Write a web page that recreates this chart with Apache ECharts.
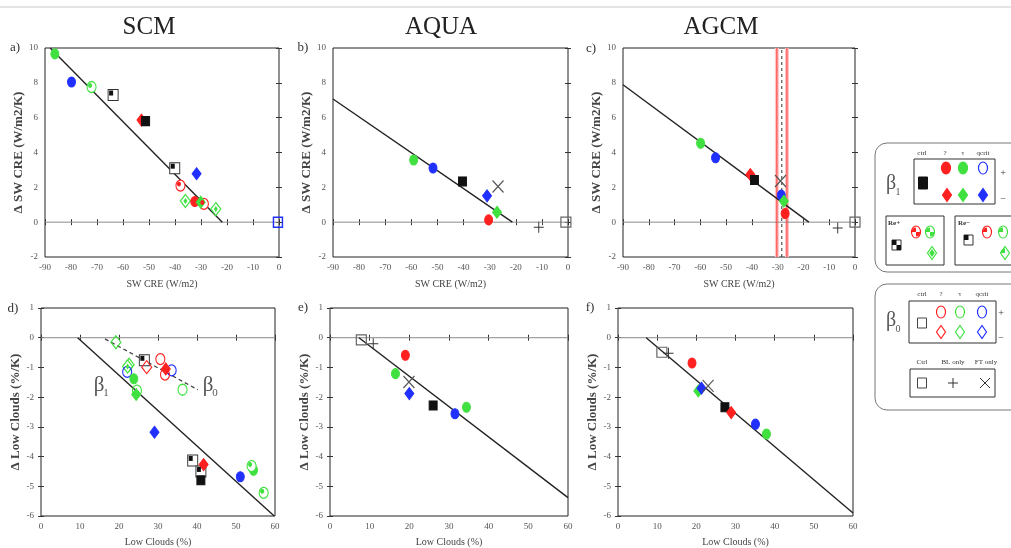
<!DOCTYPE html>
<html>
<head>
<meta charset="utf-8">
<title>SW CRE and low cloud responses</title>
<script src="https://cdn.jsdelivr.net/npm/echarts@6/dist/echarts.min.js"></script>
<style>
  html, body { margin: 0; padding: 0; background: #fff; }
  #main { width: 1011px; height: 548px; }
</style>
</head>
<body>
<div id="main"></div>
<script>
// points are [x, y, marker kind]
var scmCre = [
  [-86.2, 9.66, 'gE'], [-79.8, 8.05, 'bE'], [-72.1, 7.76, 'gEh'], [-63.8, 7.3, 'sqH'],
  [-52.9, 5.86, 'rD'], [-51.3, 5.8, 'sq'], [-40.1, 3.1, 'sqH'], [-31.7, 2.78, 'bD'],
  [-37.9, 2.1, 'rEh'], [-36.0, 1.22, 'gDh'], [-32.4, 1.19, 'rE'], [-30.1, 1.15, 'gD'],
  [-28.9, 1.05, 'rEh'], [-24.3, 0.75, 'gDh'], [-0.4, 0, 'bsqO']
];
var aquaCre = [
  [-59.1, 3.57, 'gE'], [-51.7, 3.11, 'bE'], [-40.4, 2.34, 'sq'], [-31.0, 1.51, 'bD'],
  [-26.8, 2.05, 'cross'], [-27.2, 0.57, 'gD'], [-30.4, 0.13, 'rE'], [-11.2, -0.29, 'plus'],
  [-0.8, 0, 'sqO']
];
var agcmCre = [
  [-59.9, 4.53, 'gE'], [-54.1, 3.7, 'bE'], [-40.6, 2.73, 'rD'], [-39.0, 2.42, 'sq'],
  [-28.9, 2.36, 'cross'], [-28.6, 1.55, 'bE'], [-27.6, 1.2, 'gD'], [-27.1, 0.5, 'rE'],
  [-6.7, -0.33, 'plus'], [0, 0, 'sqO']
];
var scmLcc = [
  [19.2, -0.15, 'gDo'], [22.6, -0.91, 'gDo'], [22.2, -0.97, 'gDh'], [22.1, -1.15, 'bEo'],
  [23.8, -1.38, 'gE'], [24.6, -1.78, 'gEo'], [24.4, -1.91, 'gD'], [26.5, -0.76, 'sqH'],
  [27.1, -0.99, 'rDo'], [30.6, -0.72, 'rEo'], [32.0, -1.05, 'rD'], [31.8, -1.24, 'rEo'],
  [33.5, -1.1, 'bEo'], [36.3, -1.75, 'gEo'], [29.1, -3.18, 'bD'], [38.9, -4.13, 'sqH'],
  [41.7, -4.27, 'rD'], [41.0, -4.5, 'sqH'], [41.0, -4.8, 'sq'], [51.1, -4.68, 'bE'],
  [54.0, -4.32, 'gEh'], [54.5, -4.46, 'gE'], [57.1, -5.22, 'gEh']
];
var aquaLcc = [
  [7.9, -0.07, 'sqO'], [10.9, -0.2, 'plus'], [19.0, -0.59, 'rE'], [16.5, -1.21, 'gE'],
  [19.9, -1.49, 'cross'], [20.0, -1.88, 'bD'], [26.0, -2.28, 'sq'], [31.5, -2.56, 'bE'],
  [34.4, -2.34, 'gE']
];
var agcmLcc = [
  [11.2, -0.49, 'sqO'], [12.9, -0.52, 'plus'], [18.9, -0.85, 'rE'], [20.5, -1.79, 'gD'],
  [21.3, -1.7, 'bD'], [23.0, -1.62, 'cross'], [27.3, -2.34, 'sq'], [28.9, -2.52, 'rD'],
  [35.1, -2.91, 'bE'], [37.9, -3.24, 'gE']
];

// regression lines
var scmCreFit = [[-88, 10], [-21.8, 0]];
var aquaCreFit = [[-90, 7.07], [-21.3, 0]];
var agcmCreFit = [[-90, 7.89], [-17.9, 0]];
var scmLccFit = [[9.4, 0], [59.8, -6]];
var scmLccB0 = [[16.4, -0.04], [40.2, -1.75]];
var aquaLccFit = [[7.3, 0], [60, -5.38]];
var agcmLccFit = [[7.2, 0], [60, -5.9]];
// observed range in AGCM panel
var agcmObsBand = [-30.3, -26.4];
var agcmObsMid = -28.4;

// axis ranges [min, max, step]
var creX = [-90, 0, 10];
var creY = [-2, 10, 2];
var lccX = [0, 60, 10];
var lccY = [-6, 1, 1];

var SERIF = '"Liberation Serif", "DejaVu Serif", serif';
var RED = '#ff2020', GREEN = '#3fe03f', BLUE = '#2030ff';
var ELL = 'path://M5,0C7.8,0 10,2.2 10,5C10,7.8 7.8,10 5,10C2.2,10 0,7.8 0,5C0,2.2 2.2,0 5,0Z';
var PLUS = 'path://M5,0L5,10M0,5L10,5';
var CROSS = 'path://M0,0L10,10M10,0L0,10';
var NONE = 'rgba(0,0,0,0)';

// each marker kind = list of layers [symbol, size, fill, stroke, borderWidth, offset]
var KIND = {
  sq:   [['rect', [8, 9], '#111', '#111', 1]],
  sqO:  [['rect', [10, 10], NONE, '#666', 1.2]],
  bsqO: [['rect', [9, 10], NONE, BLUE, 1.5]],
  sqH:  [['rect', [10, 11], '#fff', '#333', 1], ['rect', [4, 5], '#111', '#111', 0, [-2, -2]]],
  rE:   [[ELL, [8, 10], RED, RED, 1]],
  gE:   [[ELL, [8, 10], GREEN, GREEN, 1]],
  bE:   [[ELL, [8, 10], BLUE, BLUE, 1]],
  rEo:  [[ELL, [9, 11], NONE, RED, 1.2]],
  gEo:  [[ELL, [9, 11], NONE, GREEN, 1.2]],
  bEo:  [[ELL, [9, 11], NONE, BLUE, 1.2]],
  rEh:  [[ELL, [9, 11], '#fff', RED, 1.2], [ELL, [4, 5], RED, RED, 0, [-1.5, -1.5]]],
  gEh:  [[ELL, [9, 11], '#fff', GREEN, 1.2], [ELL, [4, 5], GREEN, GREEN, 0, [-1.5, -1.5]]],
  rD:   [['diamond', [9, 12], RED, RED, 1]],
  gD:   [['diamond', [9, 12], GREEN, GREEN, 1]],
  bD:   [['diamond', [9, 12], BLUE, BLUE, 1]],
  rDo:  [['diamond', [10, 13], NONE, RED, 1.2]],
  gDo:  [['diamond', [10, 13], NONE, GREEN, 1.2]],
  gDh:  [['diamond', [10, 13], '#fff', GREEN, 1.2], ['diamond', [4, 6], GREEN, GREEN, 0]],
  plus: [[PLUS, [10, 11], NONE, '#333', 1]],
  cross:[[CROSS, [11, 12], NONE, '#555', 1.2]]
};

var panels = [
  {pts: scmCre,  fits: [scmCreFit],  box: [45, 48, 234, 209],  xr: creX, yr: creY, xName: 'SW CRE (W/m2)', yName: 'Δ SW CRE (W/m2/K)', yGap: 18},
  {pts: aquaCre, fits: [aquaCreFit], box: [333, 48, 235, 209], xr: creX, yr: creY, xName: 'SW CRE (W/m2)', yName: 'Δ SW CRE (W/m2/K)', yGap: 20},
  {pts: agcmCre, fits: [agcmCreFit], box: [623, 48, 232, 209], xr: creX, yr: creY, xName: 'SW CRE (W/m2)', yName: 'Δ SW CRE (W/m2/K)', yGap: 20},
  {pts: scmLcc,  fits: [scmLccFit],  box: [41, 308, 234, 209], xr: lccX, yr: lccY, xName: 'Low Clouds (%)', yName: 'Δ Low Clouds (%/K)', yGap: 15},
  {pts: aquaLcc, fits: [aquaLccFit], box: [330, 308, 238, 209], xr: lccX, yr: lccY, xName: 'Low Clouds (%)', yName: 'Δ Low Clouds (%/K)', yGap: 17},
  {pts: agcmLcc, fits: [agcmLccFit], box: [618, 308, 235, 209], xr: lccX, yr: lccY, xName: 'Low Clouds (%)', yName: 'Δ Low Clouds (%/K)', yGap: 17}
];

function axis(dim, i, r, mirror, name, gap) {
  var isX = dim === 'x';
  return {
    type: 'value', gridIndex: i, min: r[0], max: r[1], interval: r[2],
    position: isX ? (mirror ? 'top' : 'bottom') : (mirror ? 'right' : 'left'),
    axisLine: {show: false},
    splitLine: {show: false},
    axisTick: {show: true, inside: true, length: 3, lineStyle: {color: '#333'}},
    axisLabel: {show: !mirror, fontFamily: SERIF, fontSize: 9, color: '#555', margin: isX ? 6 : 7},
    name: mirror ? '' : name,
    nameLocation: 'middle',
    nameGap: gap,
    nameTextStyle: isX
      ? {fontFamily: SERIF, fontSize: 10, color: '#444'}
      : {fontFamily: SERIF, fontSize: 13, fontWeight: 'bold', color: '#444'}
  };
}

function line(i, data, color, width, type, z) {
  return {
    type: 'line', xAxisIndex: 2 * i, yAxisIndex: 2 * i, data: data,
    symbol: 'none', silent: true, animation: false, z: z || 2,
    lineStyle: {color: color, width: width, type: type || 'solid'}
  };
}

var grids = [], xAxes = [], yAxes = [], series = [];
panels.forEach(function (p, i) {
  grids.push({left: p.box[0], top: p.box[1], width: p.box[2], height: p.box[3],
    show: true, borderColor: '#222', borderWidth: 1, backgroundColor: 'transparent'});
  xAxes.push(axis('x', i, p.xr, false, p.xName, i < 3 ? 22 : 21));
  xAxes.push(axis('x', i, p.xr, true));
  yAxes.push(axis('y', i, p.yr, false, p.yName, p.yGap));
  yAxes.push(axis('y', i, p.yr, true));

  series.push(line(i, [[p.xr[0], 0], [p.xr[1], 0]], '#8a8a8a', 1));
  p.fits.forEach(function (f) { series.push(line(i, f, '#222', 1.4, 'solid', 3)); });

  // one scatter series per marker kind and layer
  var kinds = {};
  p.pts.forEach(function (d) { (kinds[d[2]] = kinds[d[2]] || []).push([d[0], d[1]]); });
  Object.keys(kinds).forEach(function (k) {
    KIND[k].forEach(function (L, li) {
      series.push({
        type: 'scatter', xAxisIndex: 2 * i, yAxisIndex: 2 * i, data: kinds[k],
        symbol: L[0], symbolSize: L[1], symbolOffset: L[5] || [0, 0],
        clip: false, silent: true, animation: false, z: 5 + li,
        itemStyle: {color: L[2], borderColor: L[3], borderWidth: L[4], opacity: 1}
      });
    });
  });
});

// observed band in AGCM panel
agcmObsBand.forEach(function (v) {
  series.push(line(2, [[v, creY[0]], [v, creY[1]]], '#ffc4c4', 4, 'solid', 1));
  series.push(line(2, [[v, creY[0]], [v, creY[1]]], '#ff3030', 1, 'solid', 2));
});
series.push(line(2, [[agcmObsMid, creY[0]], [agcmObsMid, creY[1]]], '#333', 1, [3, 3], 2));
series.push(line(3, scmLccB0, '#444', 1.3, [4, 3], 3));

function txt(x, y, s, size, extra) {
  return {type: 'text', x: x, y: y, silent: true,
    style: Object.assign({text: s, fontFamily: SERIF, fontSize: size, fill: '#333',
      align: 'center', verticalAlign: 'middle'}, extra || {})};
}
function rect(x, y, w, h, fill, stroke, r) {
  return {type: 'rect', silent: true, shape: {x: x, y: y, width: w, height: h, r: r || 0},
    style: {fill: fill, stroke: stroke, lineWidth: 1}};
}
function ell(cx, cy, fill, stroke) {
  return {type: 'ellipse', silent: true, shape: {cx: cx, cy: cy, rx: 4.5, ry: 6},
    style: {fill: fill, stroke: stroke, lineWidth: 1.2}};
}
function dia(cx, cy, fill, stroke, w, h) {
  w = w || 4.5; h = h || 6.5;
  return {type: 'polygon', silent: true,
    shape: {points: [[cx, cy - h], [cx + w, cy], [cx, cy + h], [cx - w, cy]]},
    style: {fill: fill, stroke: stroke, lineWidth: 1.2}};
}
function quad(cx, cy, color, a0) {
  return {type: 'sector', silent: true,
    shape: {cx: cx, cy: cy, r0: 0, r: 4.5, startAngle: a0, endAngle: a0 + Math.PI / 2},
    style: {fill: color}};
}
function seg(x1, y1, x2, y2, c) {
  return {type: 'line', silent: true, shape: {x1: x1, y1: y1, x2: x2, y2: y2},
    style: {stroke: c || '#333', lineWidth: 1}};
}

var P = Math.PI;
var graphics = [
  rect(0, 6, 1011, 2, '#e4e4e4', null),
  txt(149, 27, 'SCM', 25, {fill: '#222'}),
  txt(441, 27, 'AQUA', 25, {fill: '#222'}),
  txt(721, 27, 'AGCM', 25, {fill: '#222'}),
  txt(15, 48, 'a)', 13), txt(303, 48, 'b)', 13), txt(591, 49, 'c)', 13),
  txt(13, 309, 'd)', 13), txt(303, 308, 'e)', 13), txt(590, 308, 'f)', 13),
  txt(99, 385, 'β', 21, {fill: '#555'}), txt(106, 393, '1', 11, {fill: '#555'}),
  txt(208, 385, 'β', 21, {fill: '#555'}), txt(215, 393, '0', 11, {fill: '#555'}),

  // beta1 key
  rect(875, 143, 150, 129, 'none', '#777', 12),
  txt(891, 184, 'β', 20, {fill: '#555'}), txt(898, 192, '1', 10, {fill: '#555'}),
  rect(914, 159, 81, 45, 'none', '#333'),
  txt(922, 153, 'ctrl', 7), txt(945, 153, '?', 7), txt(963, 153, 'τ', 7), txt(983, 153, 'qcrit', 7),
  rect(918.5, 177, 9, 12, '#111', '#111'),
  ell(946, 168, RED, RED), ell(963, 168, GREEN, GREEN), ell(983, 168, '#fff', BLUE),
  dia(947, 195, RED, RED), dia(963, 195, GREEN, GREEN), dia(983, 195, BLUE, BLUE),
  txt(1003, 173, '+', 10), txt(1003, 199, '−', 10),

  rect(886, 216, 58, 49, 'none', '#333'),
  txt(888, 223, 'Re+', 7, {align: 'left', fontWeight: 'bold'}),
  rect(892, 240, 9, 10, '#fff', '#333'), rect(892, 240, 4.5, 5, '#111', null), rect(896.5, 245, 4.5, 5, '#111', null),
  ell(916, 232, '#fff', RED), quad(916, 232, RED, P), quad(916, 232, RED, 0),
  ell(930, 232, '#fff', GREEN), quad(930, 232, GREEN, P), quad(930, 232, GREEN, 0),
  dia(932, 253, '#fff', GREEN), dia(932, 253, GREEN, GREEN, 2, 3),

  rect(955, 216, 60, 49, 'none', '#333'),
  txt(958, 223, 'Re−', 7, {align: 'left', fontWeight: 'bold'}),
  rect(964, 235, 9, 10, '#fff', '#333'), rect(964, 235, 4.5, 5, '#111', null),
  ell(987, 232, '#fff', RED), quad(987, 232, RED, P),
  ell(1003, 232, '#fff', GREEN), quad(1003, 232, GREEN, P),
  dia(1005, 253, '#fff', GREEN), quad(1005, 253, GREEN, P),

  // beta0 key
  rect(875, 284, 150, 126, 'none', '#777', 12),
  txt(891, 321, 'β', 20, {fill: '#555'}), txt(898, 329, '0', 10, {fill: '#555'}),
  rect(909, 301, 87, 42, 'none', '#333'),
  txt(922, 294, 'ctrl', 7), txt(941, 294, '?', 7), txt(960, 294, 'τ', 7), txt(982, 294, 'qcrit', 7),
  rect(917.5, 318, 9, 10, 'none', '#444'),
  ell(941, 312, 'none', RED), ell(960, 312, 'none', GREEN), ell(982, 312, 'none', BLUE),
  dia(941, 332, 'none', RED), dia(960, 332, 'none', GREEN), dia(982, 332, 'none', BLUE),
  txt(1001, 313, '+', 10), txt(1001, 338, '−', 10),
  txt(922, 362, 'Ctrl', 7), txt(953, 362, 'BL only', 7), txt(986, 362, 'FT only', 7),
  rect(910, 369, 85, 28, 'none', '#333'),
  rect(917.5, 378, 9, 10, 'none', '#444'),
  seg(948, 383, 958, 383), seg(953, 378, 953, 388),
  seg(980, 378, 990, 388), seg(990, 378, 980, 388)
];

var chart = echarts.init(document.getElementById('main'));
chart.setOption({
  backgroundColor: '#fff',
  animation: false,
  grid: grids,
  xAxis: xAxes,
  yAxis: yAxes,
  series: series,
  graphic: {elements: graphics}
});
</script>
</body>
</html>
